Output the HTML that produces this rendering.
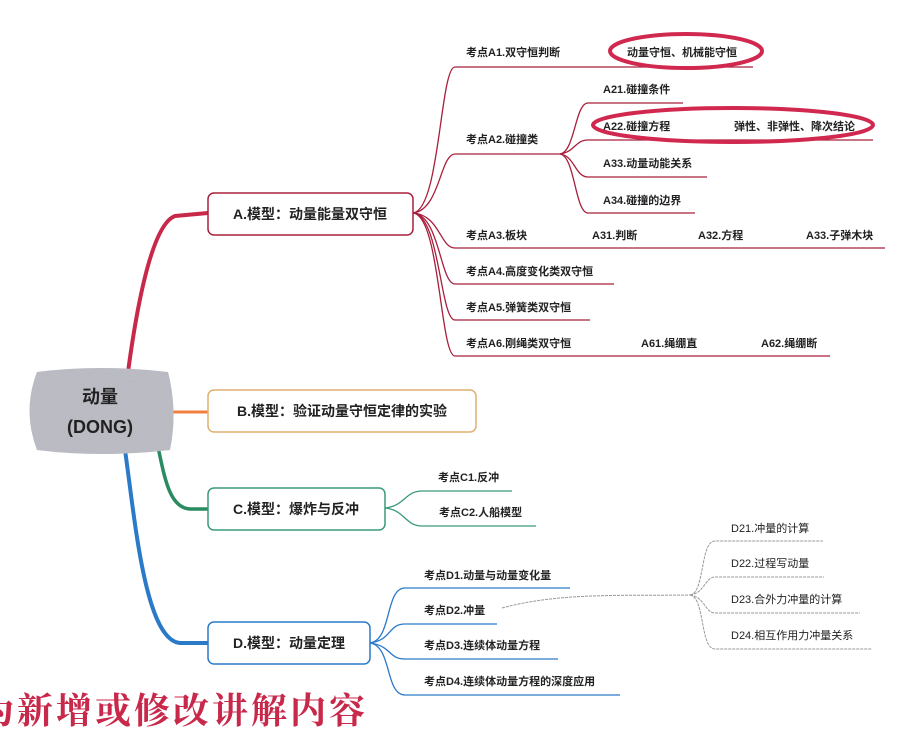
<!DOCTYPE html>
<html><head><meta charset="utf-8"><style>
html,body{margin:0;padding:0;background:#fff;}
svg{display:block}
text{font-family:"Liberation Sans","Noto Sans CJK SC",sans-serif;font-weight:bold;fill:#222;}
.s{font-size:11px}
.b{font-size:14px}
</style></head><body>
<svg width="907" height="735" viewBox="0 0 907 735" xmlns="http://www.w3.org/2000/svg">
<defs>
<filter id="n"><feTurbulence type="fractalNoise" baseFrequency="0.9" numOctaves="2"/><feColorMatrix values="0 0 0 0 0.62 0 0 0 0 0.62 0 0 0 0 0.68 0 0 0 0.5 0"/><feComposite in2="SourceGraphic" operator="in"/></filter>
</defs>
<!-- main branches -->
<path d="M128,372 C135,320 150,225 175,216 L208,213" fill="none" stroke="#c8284a" stroke-width="4"/>
<path d="M170,412 L208,412" stroke="#f08040" stroke-width="3"/>
<path d="M158,447 C165,480 170,508 190,509 L208,509" fill="none" stroke="#2a8a60" stroke-width="3.5"/>
<path d="M125,450 C135,520 145,640 180,643 L208,643" fill="none" stroke="#2a7ac8" stroke-width="4"/>
<!-- central node -->
<path d="M37,372 Q100,364 168,372 Q178,411 170,450 Q100,458 37,450 Q22,411 37,372 Z" fill="#b4b4bc"/>
<path d="M37,372 Q100,364 168,372 Q178,411 170,450 Q100,458 37,450 Q22,411 37,372 Z" fill="#fff" filter="url(#n)"/>
<text x="100" y="403" text-anchor="middle" font-size="18">动量</text>
<text x="100" y="433" text-anchor="middle" font-size="18">(DONG)</text>
<!-- boxes -->
<rect x="208" y="193" width="205" height="42" rx="6" fill="#fff" stroke="#a8203c" stroke-width="1.5"/>
<text x="310" y="219" text-anchor="middle" class="b">A.模型：动量能量双守恒</text>
<rect x="208" y="390" width="268" height="42" rx="6" fill="#fff" stroke="#e0b070" stroke-width="1.5"/>
<text x="342" y="416" text-anchor="middle" class="b">B.模型：验证动量守恒定律的实验</text>
<rect x="208" y="488" width="177" height="42" rx="6" fill="#fff" stroke="#3a9a78" stroke-width="1.5"/>
<text x="296" y="514" text-anchor="middle" class="b">C.模型：爆炸与反冲</text>
<rect x="208" y="622" width="162" height="42" rx="6" fill="#fff" stroke="#2a7ac8" stroke-width="1.5"/>
<text x="289" y="648" text-anchor="middle" class="b">D.模型：动量定理</text>
<!-- A branches -->
<g fill="none" stroke="#a8203c" stroke-width="1.3">
<path d="M413,213 C440,210 440,67 455,67 L753,67"/>
<path d="M413,213 C440,210 440,154 455,154 L560,154"/>
<path d="M413,213 C440,215 440,248 455,248 L885,248"/>
<path d="M413,213 C440,215 440,284 455,284 L614,284"/>
<path d="M413,213 C440,215 440,320 455,320 L590,320"/>
<path d="M413,213 C440,215 440,356 455,356 L830,356"/>
<path d="M560,154 C575,152 575,103 588,103 L683,103"/>
<path d="M560,154 C575,152 575,140 588,140 L873,140"/>
<path d="M560,154 C575,156 575,177 588,177 L707,177"/>
<path d="M560,154 C575,156 575,213 588,213 L695,213"/>
</g>
<text x="466" y="56" class="s">考点A1.双守恒判断</text>
<text x="627" y="56" class="s">动量守恒、机械能守恒</text>
<ellipse cx="686" cy="51" rx="76" ry="17" fill="none" stroke="#d0284e" stroke-width="4"/>
<text x="466" y="143" class="s">考点A2.碰撞类</text>
<text x="603" y="93" class="s">A21.碰撞条件</text>
<text x="603" y="130" class="s">A22.碰撞方程</text>
<text x="734" y="130" class="s">弹性、非弹性、降次结论</text>
<ellipse cx="733" cy="125" rx="140" ry="17" fill="none" stroke="#d0284e" stroke-width="4"/>
<text x="603" y="167" class="s">A33.动量动能关系</text>
<text x="603" y="204" class="s">A34.碰撞的边界</text>
<text x="466" y="239" class="s">考点A3.板块</text>
<text x="592" y="239" class="s">A31.判断</text>
<text x="698" y="239" class="s">A32.方程</text>
<text x="806" y="239" class="s">A33.子弹木块</text>
<text x="466" y="275" class="s">考点A4.高度变化类双守恒</text>
<text x="466" y="311" class="s">考点A5.弹簧类双守恒</text>
<text x="466" y="347" class="s">考点A6.刚绳类双守恒</text>
<text x="641" y="347" class="s">A61.绳绷直</text>
<text x="761" y="347" class="s">A62.绳绷断</text>
<!-- C branches -->
<g fill="none" stroke="#3a9a78" stroke-width="1.3">
<path d="M385,508 C405,506 405,491 422,491 L512,491"/>
<path d="M385,508 C405,510 405,526 422,526 L536,526"/>
</g>
<text x="438" y="481" class="s">考点C1.反冲</text>
<text x="439" y="516" class="s">考点C2.人船模型</text>
<!-- D branches -->
<g fill="none" stroke="#2a7ac8" stroke-width="1.3">
<path d="M370,643 C392,640 385,588 405,588 L570,588"/>
<path d="M370,643 C392,640 388,624 405,624 L497,624"/>
<path d="M370,643 C392,646 388,659 405,659 L558,659"/>
<path d="M370,643 C392,646 385,695 405,695 L620,695"/>
</g>
<text x="424" y="579" class="s">考点D1.动量与动量变化量</text>
<text x="424" y="614" class="s">考点D2.冲量</text>
<text x="424" y="649" class="s">考点D3.连续体动量方程</text>
<text x="424" y="685" class="s">考点D4.连续体动量方程的深度应用</text>
<g fill="none" stroke="#999" stroke-width="1" stroke-dasharray="3,1">
<path d="M502,608 C560,592 630,596 690,595"/>
<path d="M690,595 C705,593 700,541 715,541 L823,541"/>
<path d="M690,595 C705,593 705,577 715,577 L824,577"/>
<path d="M690,595 C705,597 705,613 715,613 L860,613"/>
<path d="M690,595 C705,597 700,649 715,649 L872,649"/>
</g>
<text x="731" y="532" class="s" style="font-weight:normal">D21.冲量的计算</text>
<text x="731" y="567" class="s" style="font-weight:normal">D22.过程写动量</text>
<text x="731" y="603" class="s" style="font-weight:normal">D23.合外力冲量的计算</text>
<text x="731" y="639" class="s" style="font-weight:normal">D24.相互作用力冲量关系</text>
<!-- bottom note -->
<text x="-22" y="723" style="font-family:'Noto Serif CJK SC',serif;font-size:36px;fill:#c8284a;letter-spacing:3px;font-weight:bold">为新增或修改讲解内容</text>
</svg>
</body></html>
